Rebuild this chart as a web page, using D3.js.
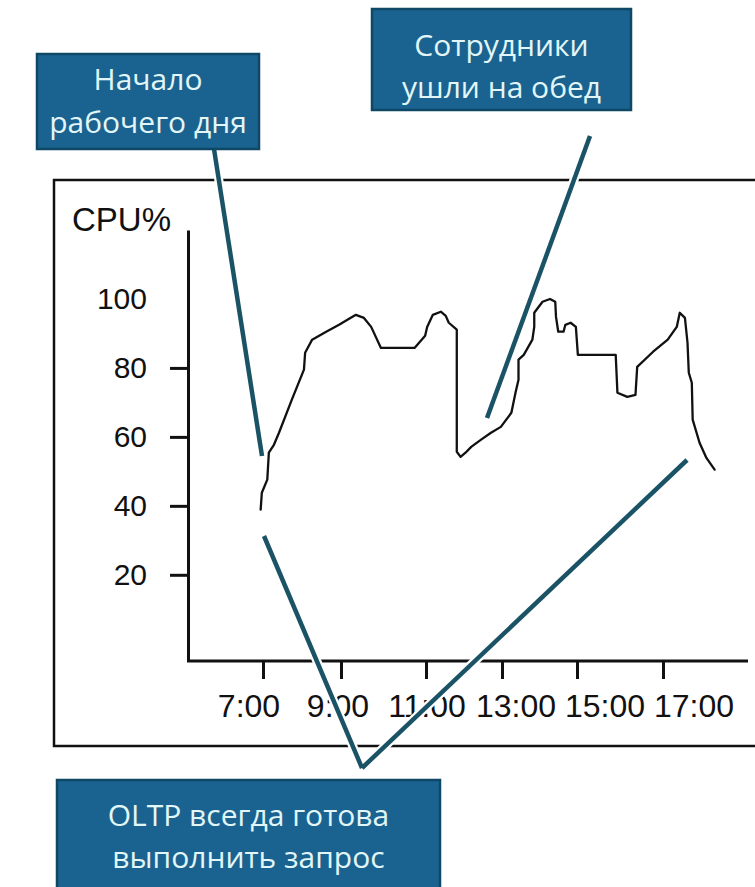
<!DOCTYPE html>
<html>
<head>
<meta charset="utf-8">
<script src="https://cdn.jsdelivr.net/npm/d3@7"></script>
<style>
  html, body { margin: 0; padding: 0; background: #fff; }
  svg { display: block; }
</style>
</head>
<body>
<svg id="chart" width="755" height="887"></svg>
<script>
// ---- data ----
const hours = [6.94, 6.97, 7.11, 7.15, 7.28, 7.41, 7.74, 8.05, 8.08, 8.26, 8.62, 8.95, 9.35, 9.54, 9.71, 9.94,
  10.73, 10.98, 11.03, 11.18, 11.39, 11.52, 11.60, 11.81, 11.81, 11.91, 12.04, 12.19, 12.45, 12.71, 12.97,
  13.25, 13.36, 13.44, 13.44, 13.58, 13.81, 13.86, 13.86, 14.08, 14.28, 14.42, 14.44, 14.50, 14.64, 14.69,
  14.83, 14.97, 15.02, 15.90, 15.94, 16.17, 16.36, 16.40, 16.77, 17.11, 17.32, 17.39, 17.51, 17.57, 17.60,
  17.67, 17.69, 17.85, 18.01, 18.20];
const cpu = [38.9, 43.8, 47.6, 55.4, 57.7, 61.2, 70.8, 79.5, 84.4, 88.2, 90.5, 92.5, 95.4, 94.5, 91.9, 85.8,
  85.8, 89.3, 91.9, 95.4, 96.3, 95.1, 93.1, 91.1, 55.7, 54.2, 55.4, 57.1, 59.2, 61.2, 62.9,
  67.0, 72.8, 76.6, 82.4, 83.8, 88.2, 91.9, 96.0, 99.2, 100.0, 99.2, 94.8, 90.5, 90.5, 92.5,
  93.1, 91.9, 83.8, 83.8, 72.8, 71.6, 72.2, 80.3, 84.7, 88.2, 91.9, 96.0, 94.5, 87.3, 78.6,
  75.7, 65.0, 58.3, 53.9, 50.5];
const yTicks = [20, 40, 60, 80, 100];
const xTickHours = [7, 9, 11, 13, 15, 17];
const xTickLabels = ["7:00", "9:00", "11:00", "13:00", "15:00", "17:00"];
const yTitle = "CPU%";
const note1 = ["Начало", "рабочего дня"];
const note2 = ["Сотрудники", "ушли на обед"];
const note3 = ["OLTP всегда готова", "выполнить запрос"];

// ---- layout ----
const svg = d3.select("#chart");
const X = d3.scaleLinear().domain(xTickHours).range([263, 341, 426, 502, 577, 663]);
const Y = d3.scaleLinear().domain([-5, 120]).range([661, 230]);
const XL = d3.scalePoint().domain(xTickLabels).range([249, 694]);
const axisFont = "'Liberation Sans', Arial, Helvetica, sans-serif";
const noteFont = "'Open Sans', 'Noto Sans', sans-serif";
const ink = "#111";

// frame
svg.append("rect").attr("x", 54).attr("y", 180).attr("width", 720).attr("height", 566)
  .attr("fill", "none").attr("stroke", ink).attr("stroke-width", 2.5);

// y axis
const gy = svg.append("g").attr("transform", "translate(188,0)")
  .call(d3.axisLeft(Y).tickValues(yTicks).tickSize(18).tickSizeOuter(0).tickPadding(23).tickFormat(d3.format("d")));
gy.select(".domain").attr("stroke", ink).attr("stroke-width", 3);
gy.selectAll(".tick line").attr("stroke", ink).attr("stroke-width", 3);
gy.selectAll(".tick").filter(d => d === 100).select("line").remove();
gy.selectAll(".tick text").attr("font-family", axisFont).attr("font-size", 30).attr("fill", ink);

// x axis
svg.append("line").attr("x1", 187).attr("x2", 748).attr("y1", Y(-5)).attr("y2", Y(-5))
  .attr("stroke", ink).attr("stroke-width", 3);
const gx = svg.append("g").attr("transform", `translate(0,${Y(-5)})`)
  .call(d3.axisBottom(X).tickValues(xTickHours).tickSize(18).tickSizeOuter(0).tickFormat(""));
gx.select(".domain").remove();
gx.selectAll(".tick line").attr("stroke", ink).attr("stroke-width", 3);
svg.append("g").selectAll("text").data(xTickLabels).join("text")
  .attr("x", d => XL(d)).attr("y", 717).attr("text-anchor", "middle")
  .attr("font-family", axisFont).attr("font-size", 32).attr("fill", ink).text(d => d);

// y title
svg.append("text").attr("x", 72).attr("y", 231).attr("font-family", axisFont)
  .attr("font-size", 33).attr("fill", ink).text(yTitle);

// CPU curve
const pts = hours.map((h, i) => [h, cpu[i]]);
svg.append("path").datum(pts)
  .attr("d", d3.line().x(d => X(d[0])).y(d => Y(d[1])))
  .attr("fill", "none").attr("stroke", ink).attr("stroke-width", 2.3)
  .attr("stroke-linejoin", "round").attr("stroke-linecap", "round");

// callout lines
const teal = "#1b5366";
const leaders = [
  [[214, 149], [262, 456]],
  [[590, 136], [487, 418]],
  [[362, 768], [264, 536]],
  [[362, 768], [687, 460]]
];
const lg = svg.append("g");
lg.selectAll("line.halo").data(leaders).join("line").attr("class", "halo")
  .attr("x1", d => d[0][0]).attr("y1", d => d[0][1]).attr("x2", d => d[1][0]).attr("y2", d => d[1][1])
  .attr("stroke", "#fff").attr("stroke-width", 9);
lg.selectAll("line.lead").data(leaders).join("line").attr("class", "lead")
  .attr("x1", d => d[0][0]).attr("y1", d => d[0][1]).attr("x2", d => d[1][0]).attr("y2", d => d[1][1])
  .attr("stroke", teal).attr("stroke-width", 4.5);

// boxes
function box(x, y, w, h, lines, baselines) {
  const g = svg.append("g");
  g.append("rect").attr("x", x).attr("y", y).attr("width", w).attr("height", h)
    .attr("fill", "#1a6390").attr("stroke", "#0f4866").attr("stroke-width", 2.5);
  g.selectAll("text").data(lines).join("text")
    .attr("x", x + w / 2).attr("y", (d, i) => baselines[i]).attr("text-anchor", "middle")
    .attr("font-family", noteFont).attr("font-size", 30).attr("fill", "#e2f6f7").text(d => d);
}
box(37, 54, 222, 95, note1, [90, 133]);
box(372, 9, 259, 101, note2, [56, 98]);
box(57, 780, 383, 130, note3, [826, 868]);
</script>
</body>
</html>
